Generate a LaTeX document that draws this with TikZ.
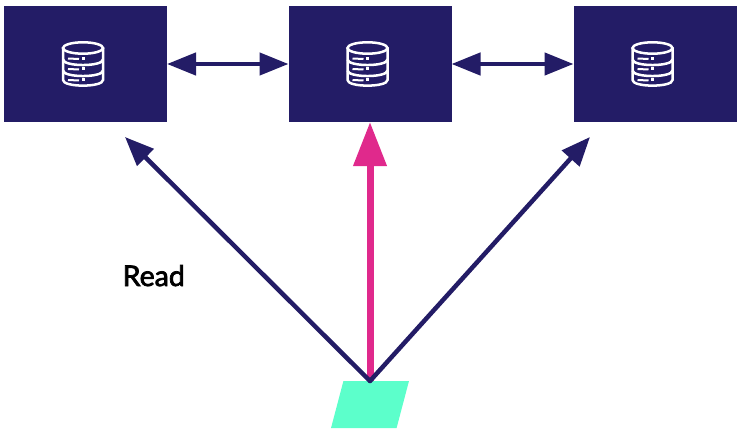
\documentclass[tikz,border=0pt]{standalone}
\usepackage{fontspec}
\setmainfont{Lato}
\newfontfamily\labelfont[FakeBold=2.5]{Lato}
\usetikzlibrary{arrows.meta,shapes.geometric}
\definecolor{mynavy}{RGB}{35,28,102}
\definecolor{mypink}{RGB}{224,41,140}
\definecolor{mymint}{RGB}{92,255,203}
\tikzset{
  dbbox/.style={fill=mynavy,minimum width=163pt,minimum height=116pt,inner sep=0pt,outer sep=0pt},
  clientbox/.style={trapezium,trapezium left angle=77,trapezium right angle=103,trapezium stretches=true,
    fill=mymint,minimum width=78pt,minimum height=47pt,inner sep=2pt,outer sep=0pt},
  syncline/.style={mynavy,line width=4.5pt,{Triangle[length=29pt,width=22pt]}-{Triangle[length=29pt,width=22pt]}},
  readline/.style={mynavy,line width=4.5pt,line cap=round,-{Triangle[length=29pt,width=23pt]}},
  mainline/.style={mypink,line width=7pt,-{Triangle[length=44pt,width=32pt]}},
  dbicon/.pic={
    \draw[white,line width=2.5pt] (0,-16) ellipse [x radius=20,y radius=5.7];
    \draw[white,line width=2.5pt,line cap=round] (-20,-16) -- (-20,16)
      .. controls (-20,23.5) and (20,23.5) .. (20,16) -- (20,-16);
    \foreach \by in {-4.6,6.4} {
      \draw[white,line width=2.5pt] (-20,\by) .. controls (-20,\by+7.5) and (20,\by+7.5) .. (20,\by);}
    \foreach \dy in {-5.5,5,16} {
      \draw[white,line width=2pt] (-15,\dy) -- (-4,\dy+0.5);
      \fill[white] (-1.5,\dy-1.5) rectangle (1.5,\dy+1.5);}
  }
}
\begin{document}
\begin{tikzpicture}[x=1pt,y=-1pt]
  \useasboundingbox (0,0) rectangle (743,433);
  \foreach \bname/\bx in {dbleft/85.5,dbmid/370,dbright/655} {
    \node[dbbox] (\bname) at (\bx,64) {};
    \pic[xshift=-2.5pt] at (\bname) {dbicon};}
  \node[clientbox] (client) at (370,404.5) {\phantom{x}};
  \node[font=\fontsize{28.5}{30}\labelfont,anchor=base west,inner sep=0pt,text=black] (readlabel) at (122.5,286) {Read};
  \coordinate (readtop) at (dbmid |- client.north);
  \coordinate (tipleft) at (125,137);
  \coordinate (tipmid) at (370,122);
  \coordinate (tipright) at (590,137);
  \draw[syncline,yshift=0.7pt] (dbleft.east) -- (dbmid.west);
  \draw[syncline,yshift=0.7pt] (dbmid.east) -- (dbright.west);
  \draw[mainline] (readtop) -- (tipmid);
  \draw[readline] (readtop) -- (tipleft);
  \draw[readline] (readtop) -- (tipright);
\end{tikzpicture}
\end{document}
